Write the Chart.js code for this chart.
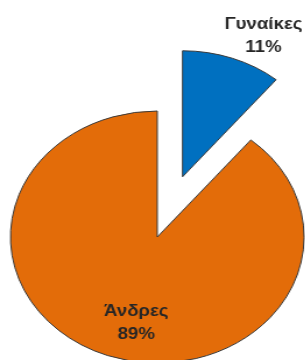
<!DOCTYPE html>
<html>
<head>
<meta charset="utf-8">
<script src="https://cdn.jsdelivr.net/npm/chart.js@4"></script>
<style>
  html, body { margin: 0; padding: 0; background: #fff; overflow: hidden; }
  /* the original picture is stretched sideways, so the pie is an ellipse */
  #wrap { transform: scaleX(1.165); transform-origin: 0 0; width: 262px; height: 360px; }
</style>
</head>
<body>
<div id="wrap"><canvas id="pie" width="262" height="360"></canvas></div>
<script>
var labels = ['Γυναίκες', 'Άνδρες'];
var values = [11, 89];
var colors = ['#0070C0', '#E36C09'];
// how far each slice is pulled out of the pie, px
var pull = [64, 0];

// where each label sits: fraction of radius and turn (degrees) from the slice middle
var labelRadius = [1.244, 0.70];
var labelTurn = [6.5, -8];

// Chart.js "offset" also grows the slice, so move the slice ourselves instead
var pullPlugin = {
  id: 'pullSlices',
  beforeDatasetsDraw: function(chart) {
    chart.getDatasetMeta(0).data.forEach(function(arc, i) {
      if (arc._pulled) return;
      var base = arc.draw;
      arc.draw = function(ctx, area) {
        var mid = (this.startAngle + this.endAngle) / 2;
        ctx.save();
        ctx.translate(Math.cos(mid) * pull[i], Math.sin(mid) * pull[i]);
        base.call(this, ctx, area);
        ctx.restore();
      };
      arc._pulled = true;
    });
  }
};

var labelPlugin = {
  id: 'sliceLabels',
  afterDatasetsDraw: function(chart) {
    var ctx = chart.ctx;
    var meta = chart.getDatasetMeta(0);
    var total = values.reduce(function(a, b) { return a + b; }, 0);
    ctx.save();
    ctx.font = 'bold 16px "Liberation Sans", Arial, sans-serif';
    ctx.fillStyle = '#262626';
    ctx.textAlign = 'center';
    ctx.textBaseline = 'middle';
    meta.data.forEach(function(arc, i) {
      var p = arc.getProps(['x', 'y', 'startAngle', 'endAngle', 'outerRadius']);
      var mid = (p.startAngle + p.endAngle) / 2;
      var cx = p.x + Math.cos(mid) * pull[i];
      var cy = p.y + Math.sin(mid) * pull[i];
      var a = mid + labelTurn[i] * Math.PI / 180;
      var lx = cx + Math.cos(a) * p.outerRadius * labelRadius[i];
      var ly = cy + Math.sin(a) * p.outerRadius * labelRadius[i];
      var pct = Math.round(values[i] / total * 100) + '%';
      ctx.fillText(labels[i], lx, ly - 11.5);
      ctx.fillText(pct, lx, ly + 11.5);
    });
    ctx.restore();
  }
};

new Chart(document.getElementById('pie'), {
  type: 'pie',
  data: {
    labels: labels,
    datasets: [{
      data: values,
      backgroundColor: colors,
      borderColor: '#3a3a3a',
      borderWidth: 1,
      clip: false
    }]
  },
  options: {
    responsive: false,
    animation: false,
    radius: 126,
    layout: { padding: { top: 114, bottom: 0, left: 8, right: 0 } },
    plugins: {
      legend: { display: false },
      tooltip: { enabled: false }
    }
  },
  plugins: [pullPlugin, labelPlugin]
});
</script>
</body>
</html>
